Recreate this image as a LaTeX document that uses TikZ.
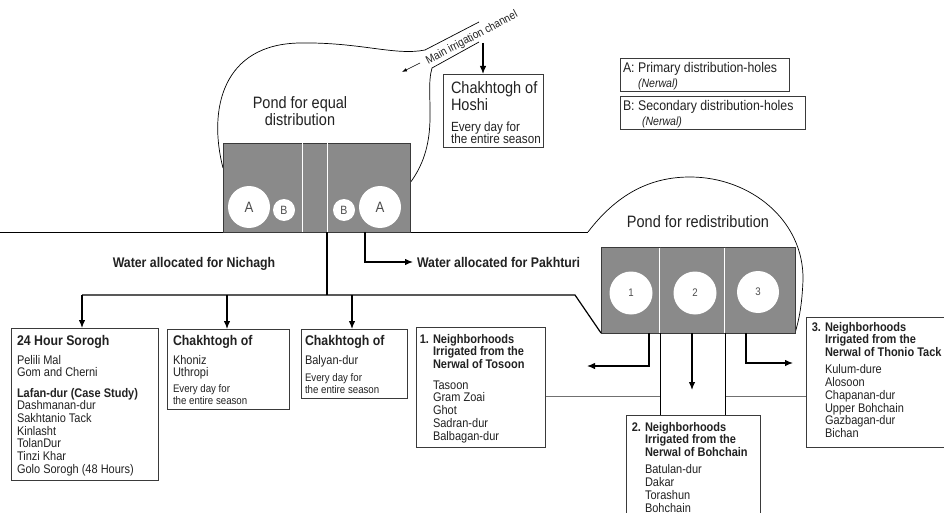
\documentclass[tikz,border=0pt]{standalone}
\usepackage{fontspec}
\setmainfont{Liberation Sans}[FakeStretch=0.88]
\usetikzlibrary{arrows.meta}
\definecolor{basingray}{HTML}{8A8A8A}
\definecolor{edgegray}{HTML}{3A3A3A}
\definecolor{inkgray}{HTML}{222222}
\definecolor{linkgray}{HTML}{707070}
\newcommand\setfs[2]{\fontsize{#1}{#2}\selectfont}
\begin{document}
\begin{tikzpicture}[x=1pt,y=-1pt,
  box/.style={draw=edgegray,line width=0.9pt,fill=white,anchor=north west,inner sep=0pt,outer sep=0pt},
  basin/.style={draw=edgegray,fill=basingray,line width=0.9pt,anchor=north west,inner sep=0pt,outer sep=0pt},
  hole/.style={circle,fill=white,inner sep=0pt,text=inkgray!80},
  txt/.style={anchor=north west,inner sep=0pt,outer sep=0pt,align=left,text=inkgray},
  label/.style={inner sep=0pt,outer sep=0pt,text=inkgray},
  flowline/.style={line width=1.2pt,draw=black},
  flowarrow/.style={flowline,-{Latex[length=8pt,width=6.5pt]}},
  outline/.style={line width=0.7pt,draw=black}]
\useasboundingbox (0,0) rectangle (944,513);
\clip (0,0) rectangle (944,513);
\fill[white] (0,0) rectangle (944,513);

% ground line and redistribution pond outline
\coordinate (g0) at (0,232);
\coordinate (g1) at (588,232);
\draw[outline] (g0) -- (g1);
\draw[outline] (g1) .. controls (620,190) and (655,177) .. (690,177)
  .. controls (750,177) and (804,220) .. (803,280)
  .. controls (802,305) and (799,320) .. (795,333);

% equal distribution pond outline and main channel
\coordinate (cu0) at (425,50); \coordinate (cu1) at (479,22);
\coordinate (cl0) at (432,68); \coordinate (cl1) at (479,42);
\draw[outline] (223,168) .. controls (208,110) and (222,44) .. (300,43)
  .. controls (360,42) and (395,56) .. (cu0) -- (cu1);
\draw[outline] (cl1) -- (cl0) .. controls (424,95) and (442,140) .. (410,183);
\node[label,rotate=28,font=\setfs{11.5}{11.5}] (chtxt) at (472,38) {Main irrigation channel};
\coordinate (ca0) at (420,63); \coordinate (ca1) at (402,72);
\draw[line width=0.6pt,-{Latex[length=5pt,width=3.5pt]}] (ca0) -- (ca1);

% link lines between neighbourhood boxes
\draw[linkgray,line width=1pt] (545,396) -- (660,396) (725,396) -- (806,396);

% ponds
\node[basin,minimum width=187,minimum height=89] (pondA) at (223,143) {};
\draw[white,line width=0.8pt] (302,143.5) -- (302,231.5) (327,143.5) -- (327,231.5);
\node[hole,minimum size=42] (holeA1) at (249,207) {\setfs{15}{15}A};
\node[hole,minimum size=22] (holeB1) at (284,210) {\setfs{12}{12}B};
\node[hole,minimum size=22] (holeB2) at (344,210) {\setfs{12}{12}B};
\node[hole,minimum size=42] (holeA2) at (380,207) {\setfs{15}{15}A};
\node[label,align=center,anchor=north,font=\setfs{16.5}{14.5}] (pondAtxt) at (300,97) {Pond for equal\\distribution};

\node[basin,minimum width=194,minimum height=86] (pondB) at (601,247) {};
\foreach \x in {660,725} {
  \draw[white,line width=2.8pt] (\x,247.5) -- (\x,332.5);
  \draw[basingray,line width=0.8pt] (\x,247.5) -- (\x,332.5);
}
\node[hole,minimum size=43] (hole1) at (631,293) {\setfs{11}{11}1};
\node[hole,minimum size=43] (hole2) at (695,293) {\setfs{11}{11}2};
\node[hole,minimum size=42] (hole3) at (758,292) {\setfs{11}{11}3};
\node[label,anchor=base,font=\setfs{16.5}{16.5}] (pondBtxt) at (698,227) {Pond for redistribution};

% legend
\node[box,minimum width=169,minimum height=33] (legA) at (620,58) {};
\node[txt,font=\setfs{14}{15}] (legAt) at (623,62) {A: Primary distribution-holes\\\hspace*{15pt}{\itshape\setfs{12}{15}(Nerwal)}};
\node[box,minimum width=185,minimum height=33] (legB) at (620,96) {};
\node[txt,font=\setfs{14}{15}] (legBt) at (623,100) {B: Secondary distribution-holes\\\hspace*{19pt}{\itshape\setfs{12}{15}(Nerwal)}};

% Hoshi
\node[box,minimum width=100,minimum height=73] (hoshi) at (443,74) {};
\node[txt,font=\setfs{16.5}{15}] (hoshit) at (451,82) {Chakhtogh of\\Hoshi\\[6pt]{\setfs{13.3}{15}Every day for}\\[-3pt]{\setfs{13.3}{15}the entire season}};
\coordinate (chdrop) at (483,43);
\draw[flowarrow] (chdrop) -- (chdrop |- hoshi.north);

% allocation labels
\node[label,anchor=base,font=\bfseries\setfs{14}{14}] (nichagh) at (194,267) {Water allocated for Nichagh};
\node[label,anchor=base west,font=\bfseries\setfs{14}{14}] (pakh) at (417,267) {Water allocated for Pakhturi};
\coordinate (outP) at (365,232);
\draw[flowarrow] (outP) |- ([xshift=-4pt]pakh.west);

% Nichagh distribution
\coordinate (outA) at (327,232);
\coordinate (jA) at (327,295);
\coordinate (jL) at (82,295);
\coordinate (jM) at (227,295);
\coordinate (jR) at (352,295);
\coordinate (jK) at (575,295);
\draw[flowline] (outA) -- (jA);
\draw[flowline] (jL) -- (jK) -- (pondB.south west);

\node[box,minimum width=147,minimum height=152] (sorogh) at (11,328) {};
\node[box,minimum width=122,minimum height=80] (khoniz) at (167,329) {};
\node[box,minimum width=106,minimum height=69] (balyan) at (301,329) {};
\draw[flowarrow] (jL) -- (jL |- sorogh.north);
\draw[flowarrow] (jM) -- (jM |- khoniz.north);
\draw[flowarrow] (jR) -- (jR |- balyan.north);

\node[txt,font=\setfs{12.5}{12.7}] (soroght) at (17,335) {{\bfseries\setfs{14}{12.7}24 Hour Sorogh}\\[6.3pt]Pelili Mal\\Gom and Cherni\\[7.6pt]{\bfseries Lafan-dur (Case Study)}\\Dashmanan-dur\\Sakhtanio Tack\\Kinlasht\\TolanDur\\Tinzi Khar\\Golo Sorogh (48 Hours)};
\node[txt,font=\setfs{12.5}{12.7}] (khonizt) at (173,335) {{\bfseries\setfs{14}{12.7}Chakhtogh of}\\[6.3pt]Khoniz\\Uthropi\\[2.6pt]{\setfs{11}{12.7}Every day for}\\[-0.7pt]{\setfs{11}{12.7}the entire season}};
\node[txt,font=\setfs{12.5}{12.7}] (balyant) at (305,335) {{\bfseries\setfs{14}{12.7}Chakhtogh of}\\[6.3pt]Balyan-dur\\[4.3pt]{\setfs{11}{12.7}Every day for}\\[-0.7pt]{\setfs{11}{12.7}the entire season}};

% redistribution outlets
\coordinate (o1) at (649,333); \coordinate (e1) at (587,366);
\draw[flowarrow] (o1) |- (e1);
\coordinate (o2) at (692,333); \coordinate (e2) at (692,390);
\draw[flowarrow] (o2) -- (e2);
\coordinate (o3) at (746,333); \coordinate (e3) at (793,363);
\draw[flowarrow] (o3) |- (e3);

\node[box,minimum width=129,minimum height=120] (tosoon) at (416,327) {};
\node[box,minimum width=134,minimum height=110] (bohchain) at (626,415) {};
\node[box,minimum width=150,minimum height=130] (thonio) at (806,317) {};
\coordinate (w1) at (660,333); \coordinate (w2) at (725,333);
\draw[line width=0.8pt] (w1) -- (w1 |- bohchain.north) (w2) -- (w2 |- bohchain.north);

\node[txt,font=\setfs{12.5}{12.8}] (tosoont) at (433,334) {{\bfseries\llap{1. }Neighborhoods}\\{\bfseries Irrigated from the}\\{\bfseries Nerwal of Tosoon}\\[7.6pt]Tasoon\\Gram Zoai\\Ghot\\Sadran-dur\\Balbagan-dur};
\node[txt,font=\setfs{12.5}{12.8}] (bohchaint) at (645,422) {{\bfseries\llap{2. }Neighborhoods}\\{\bfseries Irrigated from the}\\{\bfseries Nerwal of Bohchain}\\[4.2pt]Batulan-dur\\Dakar\\Torashun\\Bohchain};
\node[txt,font=\setfs{12.5}{12.8}] (thoniot) at (825,322) {{\bfseries\llap{3. }Neighborhoods}\\{\bfseries Irrigated from the}\\{\bfseries Nerwal of Thonio Tack}\\[4.2pt]Kulum-dure\\Alosoon\\Chapanan-dur\\Upper Bohchain\\Gazbagan-dur\\Bichan};
\end{tikzpicture}
\end{document}
